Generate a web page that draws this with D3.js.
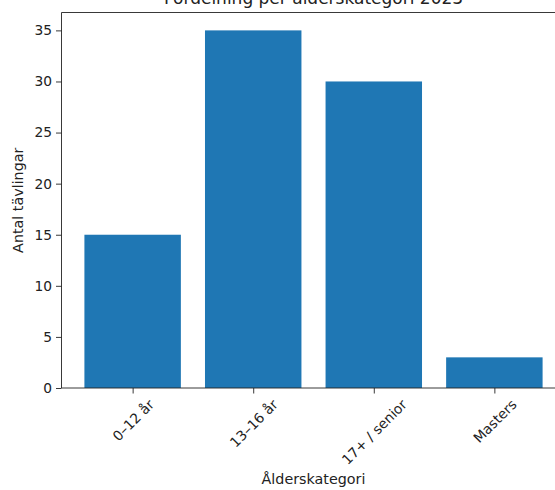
<!DOCTYPE html>
<html>
<head>
<meta charset="utf-8">
<script src="https://cdn.jsdelivr.net/npm/d3@7"></script>
<style>
  html, body { margin: 0; padding: 0; background: #ffffff; overflow: hidden; }
  svg { display: block; font-family: "DejaVu Sans", sans-serif; }
</style>
</head>
<body>
<svg id="chart"></svg>
<script>
const width = 555
const height = 490

// Data
const categories = ["0\u201312 år", "13\u201316 år", "17+ / senior", "Masters"]
const counts = [15, 35, 30, 3]
const yTicks = [0, 5, 10, 15, 20, 25, 30, 35]

const titleText = "Fördelning per ålderskategori 2023"
const xLabelText = "Ålderskategori"
const yLabelText = "Antal tävlingar"

// Layout
const plotLeft = 61.5
const plotRight = 565.5
const plotTop = 12.5
const plotBottom = 388
const barColor = "#1f77b4"
const textColor = "#222"
const tickFont = 13.8
const labelFont = 14.3
const titleFont = 17
const tickLen = 5.5

const svg = d3.select("#chart")
    .attr("width", width)
    .attr("height", height)

// matplotlib-like margins: bars are 0.8 wide, 5% padding each side
const x = d3.scaleLinear()
    .domain([-0.4 - 0.19, categories.length - 1 + 0.4 + 0.19])
    .range([plotLeft, plotRight])

const y = d3.scaleLinear()
    .domain([0, d3.max(counts) * 1.05])
    .range([plotBottom, plotTop])

// Bars
svg.append("g")
    .selectAll("rect")
    .data(counts)
    .enter()
    .append("rect")
    .attr("x", (d, i) => x(i - 0.4))
    .attr("width", (d, i) => x(i + 0.4) - x(i - 0.4))
    .attr("y", d => y(d))
    .attr("height", d => y(0) - y(d))
    .attr("fill", barColor)

// Y axis
const yAxis = svg.append("g")
    .attr("transform", `translate(${plotLeft},0)`)
    .call(d3.axisLeft(y).tickValues(yTicks).tickSize(tickLen).tickPadding(4))

yAxis.select(".domain").remove()
yAxis.selectAll("line").attr("stroke", textColor).attr("stroke-width", 0.9)
yAxis.selectAll("text")
    .attr("fill", textColor)
    .style("font-size", tickFont + "px")
    .style("font-family", "DejaVu Sans, sans-serif")

// X axis ticks
const xAxis = svg.append("g")
    .attr("transform", `translate(0,${plotBottom})`)
    .call(d3.axisBottom(x)
        .tickValues(d3.range(categories.length))
        .tickSize(tickLen)
        .tickFormat(i => categories[i]))

xAxis.select(".domain").remove()
xAxis.selectAll("line").attr("stroke", textColor).attr("stroke-width", 0.9)

// Rotated labels, centred on the tick like matplotlib rotation=45
const labelTop = tickLen + 3
xAxis.selectAll(".tick text")
    .attr("fill", textColor)
    .style("font-size", tickFont + "px")
    .style("font-family", "DejaVu Sans, sans-serif")
    .attr("text-anchor", "middle")
    .attr("dy", null)
    .attr("dominant-baseline", "central")
    .each(function () {
        const w = this.getComputedTextLength()
        const h = tickFont * 1.1
        const side = (w + h) * Math.SQRT1_2
        const cy = labelTop + side / 2
        d3.select(this)
            .attr("y", 0)
            .attr("transform", `translate(0,${cy}) rotate(-45)`)
    })

// Spines
const spine = svg.append("g")
    .attr("stroke", textColor)
    .attr("stroke-width", 0.9)
    .attr("fill", "none")

spine.append("line")
    .attr("x1", plotLeft).attr("x2", plotLeft)
    .attr("y1", plotTop).attr("y2", plotBottom)
spine.append("line")
    .attr("x1", plotLeft).attr("x2", plotRight)
    .attr("y1", plotBottom).attr("y2", plotBottom)
spine.append("line")
    .attr("x1", plotLeft).attr("x2", plotRight)
    .attr("y1", plotTop).attr("y2", plotTop)
spine.append("line")
    .attr("x1", plotRight).attr("x2", plotRight)
    .attr("y1", plotTop).attr("y2", plotBottom)

// Title and axis labels
const midX = (plotLeft + plotRight) / 2

svg.append("text")
    .attr("x", midX)
    .attr("y", 4)
    .attr("text-anchor", "middle")
    .attr("fill", textColor)
    .style("font-size", titleFont + "px")
    .text(titleText)

svg.append("text")
    .attr("x", midX)
    .attr("y", 484)
    .attr("text-anchor", "middle")
    .attr("fill", textColor)
    .style("font-size", labelFont + "px")
    .text(xLabelText)

svg.append("text")
    .attr("transform", `translate(23,${(plotTop + plotBottom) / 2}) rotate(-90)`)
    .attr("text-anchor", "middle")
    .attr("fill", textColor)
    .style("font-size", labelFont + "px")
    .text(yLabelText)
</script>
</body>
</html>
